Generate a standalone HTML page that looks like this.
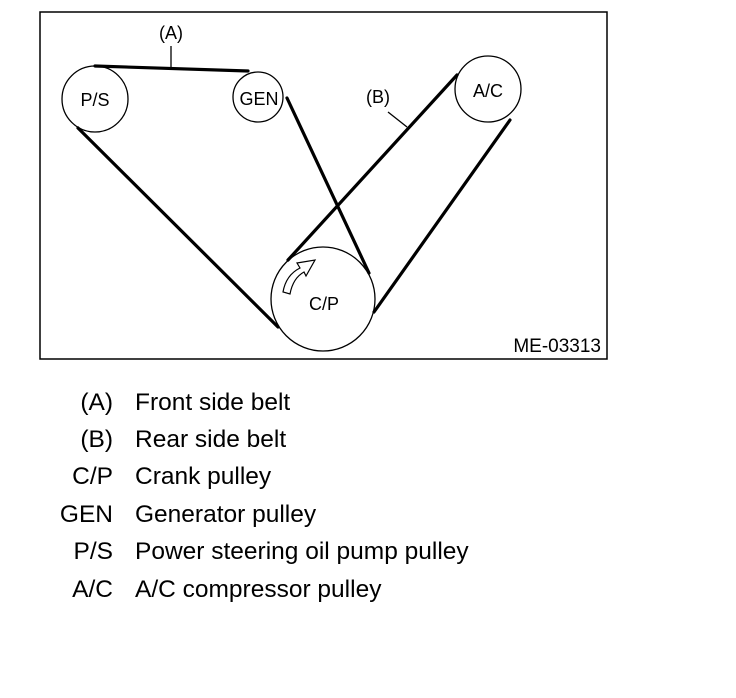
<!DOCTYPE html>
<html><head><meta charset="utf-8"><style>
body{margin:0;background:#fff;width:736px;height:698px;overflow:hidden;font-family:"Liberation Sans",Arial,sans-serif}
.l{position:absolute;font-size:24.5px;color:#000;line-height:28px}
.c{width:90px;text-align:right;left:23px}
.d{left:135px}
</style></head><body>
<svg width="736" height="380" style="position:absolute;left:0;top:0" font-family="Liberation Sans, Arial, sans-serif">
<rect x="40" y="12" width="567" height="347" fill="none" stroke="#000" stroke-width="1.5"/>
<g fill="none" stroke="#000" stroke-width="1.3">
<circle cx="95" cy="99" r="33"/>
<circle cx="258" cy="97" r="25"/>
<circle cx="488" cy="89" r="33"/>
<circle cx="323" cy="299" r="52"/>
</g>
<g stroke="#000" stroke-width="3.2" stroke-linecap="round">
<line x1="95" y1="66" x2="248" y2="71"/>
<line x1="78" y1="128" x2="278" y2="327"/>
<line x1="287" y1="98" x2="369" y2="273"/>
<line x1="457" y1="75" x2="288" y2="260"/>
<line x1="510" y1="120" x2="374" y2="312"/>
</g>
<g stroke="#000" stroke-width="1.3">
<line x1="171" y1="46" x2="171" y2="68"/>
<line x1="388" y1="112" x2="407" y2="127"/>
</g>
<path d="M283,292 Q286,275 300,268 L297,263 L315,260 L306,276 L304,272 Q293,278 290,294 Z" fill="#fff" stroke="#000" stroke-width="1.2"/>
<g font-size="18" fill="#000">
<text x="171" y="39" text-anchor="middle">(A)</text>
<text x="378" y="103" text-anchor="middle">(B)</text>
<text x="95" y="106" text-anchor="middle">P/S</text>
<text x="259" y="105" text-anchor="middle">GEN</text>
<text x="488" y="97" text-anchor="middle">A/C</text>
<text x="324" y="310" text-anchor="middle">C/P</text>
<text x="601" y="352" text-anchor="end" font-size="19">ME-03313</text>
</g>
</svg>
<div class="l c" style="top:389px">(A)</div><div class="l d" style="top:389px">Front side belt</div>
<div class="l c" style="top:426px">(B)</div><div class="l d" style="top:426px">Rear side belt</div>
<div class="l c" style="top:463px">C/P</div><div class="l d" style="top:463px">Crank pulley</div>
<div class="l c" style="top:501px">GEN</div><div class="l d" style="top:501px">Generator pulley</div>
<div class="l c" style="top:538px">P/S</div><div class="l d" style="top:538px">Power steering oil pump pulley</div>
<div class="l c" style="top:576px">A/C</div><div class="l d" style="top:576px">A/C compressor pulley</div>
</body></html>
